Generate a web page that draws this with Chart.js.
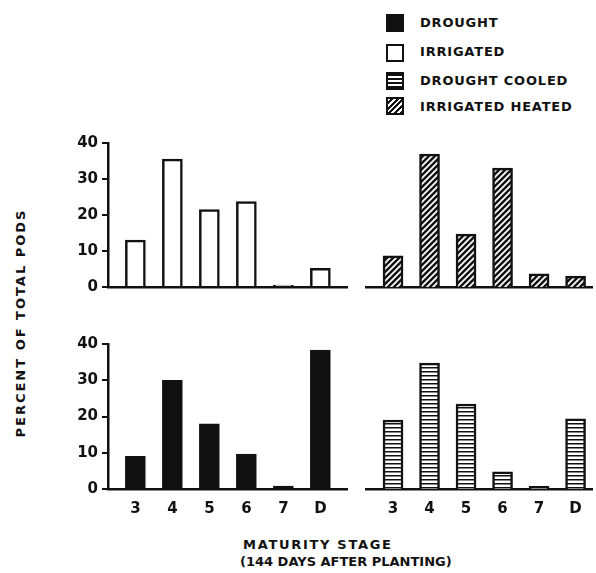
<!DOCTYPE html>
<html>
  <head>
    <title>Maturity stage</title>
    <style>
      body {
        background-color: white;
        margin: 0;
        padding: 0;
        font-family: 'DejaVu Sans', sans-serif;
        color: #111;
      }
      #wrap {
        position: relative;
        width: 596px;
        height: 573px;
        overflow: hidden;
      }
      canvas { position: absolute; }
      .txt {
        position: absolute;
        white-space: nowrap;
        font-size: 13px;
        font-weight: bold;
        letter-spacing: 0.8px;
      }
      .sw {
        position: absolute;
        left: 386px;
        width: 14px;
        height: 14px;
        border: 2px solid #111;
      }
    </style>
    <script src="https://cdn.jsdelivr.net/npm/chart.js"></script>
  </head>
  <body>
    <div id="wrap">
      <canvas id="irrigated" width="300" height="175" style="left:50px; top:130px;"></canvas>
      <canvas id="irrHeated" width="240" height="175" style="left:356px; top:130px;"></canvas>
      <canvas id="drought" width="300" height="190" style="left:50px; top:331px;"></canvas>
      <canvas id="drCooled" width="240" height="190" style="left:356px; top:331px;"></canvas>

      <div class="sw" style="top:14px; background:#111;"></div>
      <div class="txt" style="left:420px; top:15px;">DROUGHT</div>
      <div class="sw" style="top:44px; background:#fff;"></div>
      <div class="txt" style="left:420px; top:44px;">IRRIGATED</div>
      <div class="sw" style="top:72px; background:repeating-linear-gradient(180deg, #111 0 2px, #fff 2px 4px);"></div>
      <div class="txt" style="left:420px; top:73px;">DROUGHT COOLED</div>
      <div class="sw" style="top:97px; background:repeating-linear-gradient(-45deg, #111 0 2px, #fff 2px 4px);"></div>
      <div class="txt" style="left:420px; top:99px;">IRRIGATED HEATED</div>

      <div class="txt" style="left:20px; top:323px; transform: translate(-50%, -50%) rotate(-90deg); letter-spacing:2px;">PERCENT OF TOTAL PODS</div>
      <div class="txt" style="left:243px; top:537px; letter-spacing:1.7px;">MATURITY STAGE</div>
      <div class="txt" style="left:240px; top:554px; letter-spacing:0px;">(144 DAYS AFTER PLANTING)</div>
    </div>
    <script>
      const stages = ["3", "4", "5", "6", "7", "D"];
      const irrigated = [13, 35.5, 21.5, 23.7, 0.5, 5.2];
      const irrigatedHeated = [8.6, 36.7, 14.6, 32.8, 3.6, 3.0];
      const drought = [9, 30, 18, 9.6, 0.8, 38.3];
      const droughtCooled = [18.9, 34.5, 23.3, 4.7, 0.7, 19.2];
      const yTicks = [0, 10, 20, 30, 40];

      // hatch patterns for the bars
      function diagPattern() {
        const c = document.createElement("canvas");
        c.width = 6; c.height = 6;
        const g = c.getContext("2d");
        g.fillStyle = "#111";
        g.fillRect(0, 0, 6, 6);
        g.strokeStyle = "#fff";
        g.lineWidth = 1.8;
        g.beginPath();
        g.moveTo(-1, 1); g.lineTo(1, -1);
        g.moveTo(0, 6); g.lineTo(6, 0);
        g.moveTo(5, 7); g.lineTo(7, 5);
        g.stroke();
        return g.createPattern(c, "repeat");
      }
      function horizPattern() {
        const c = document.createElement("canvas");
        c.width = 4; c.height = 4;
        const g = c.getContext("2d");
        g.fillStyle = "#fff";
        g.fillRect(0, 0, 4, 4);
        g.fillStyle = "#111";
        g.fillRect(0, 0, 4, 1.5);
        return g.createPattern(c, "repeat");
      }

      function makePanel(id, values, fill, left, bottomLabels) {
        const pts = values.map((v, i) => ({ x: i, y: v }));
        new Chart(document.getElementById(id), {
          type: "bar",
          data: {
            datasets: [{
              data: pts,
              backgroundColor: fill,
              borderColor: "#111",
              borderWidth: 2.5,
              barThickness: 20
            }]
          },
          options: {
            responsive: false,
            animation: false,
            layout: { padding: { top: 12, right: left ? 3 : 4, left: left ? 0 : 10 } },
            plugins: { legend: { display: false }, tooltip: { enabled: false } },
            scales: {
              x: {
                type: "linear",
                offset: false,
                min: -0.74,
                max: left ? 5.72 : 5.45,
                afterBuildTicks: (s) => { s.ticks = stages.map((c, i) => ({ value: i })); },
                grid: { display: false },
                border: { color: "#111", width: 2.5 },
                ticks: {
                  display: bottomLabels,
                  autoSkip: false,
                  maxRotation: 0,
                  color: "#111",
                  padding: 3,
                  font: { family: "DejaVu Sans", size: 15, weight: "bold" },
                  callback: (v) => stages[v]
                },
                afterFit: (s) => { s.height = bottomLabels ? 32 : 18; }
              },
              y: {
                display: left,
                min: 0,
                max: 40,
                afterBuildTicks: (s) => { s.ticks = yTicks.map(v => ({ value: v })); },
                grid: { drawOnChartArea: false, drawTicks: true, tickLength: 6, color: "#111", lineWidth: 2 },
                border: { color: "#111", width: 2.5 },
                ticks: {
                  color: "#111",
                  padding: 4,
                  font: { family: "DejaVu Sans", size: 15, weight: "bold" }
                },
                afterFit: (s) => { s.width = left ? 58 : 0; }
              }
            }
          }
        });
      }

      makePanel("irrigated", irrigated, "#fff", true, false);
      makePanel("irrHeated", irrigatedHeated, diagPattern(), false, false);
      makePanel("drought", drought, "#111", true, true);
      makePanel("drCooled", droughtCooled, horizPattern(), false, true);
    </script>
  </body>
</html>
